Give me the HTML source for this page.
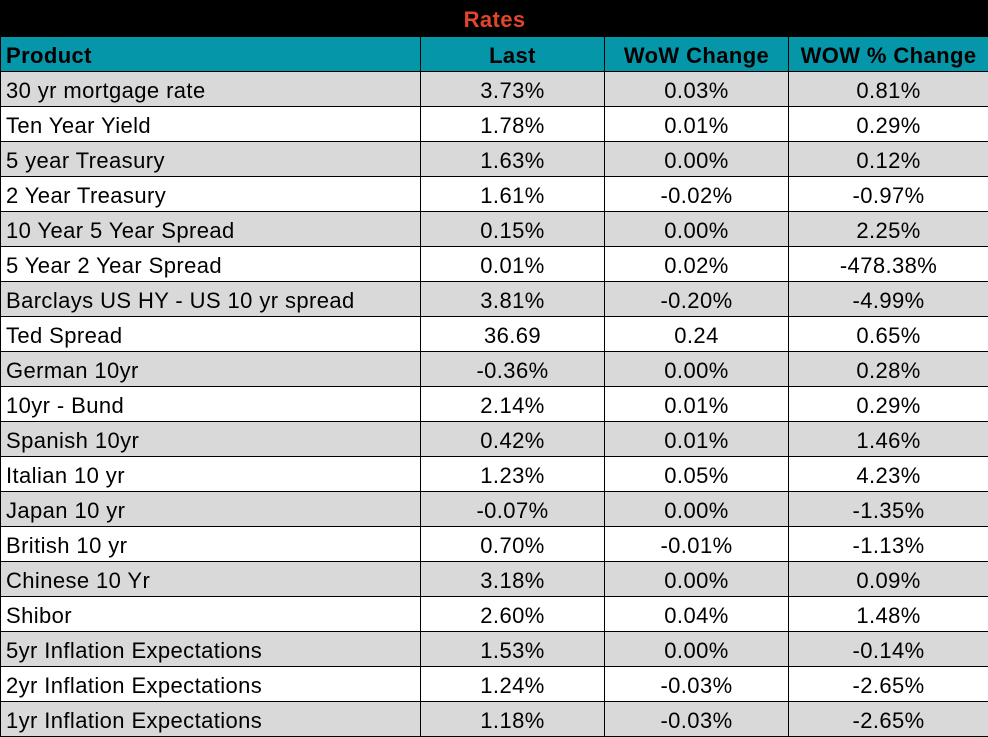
<!DOCTYPE html>
<html><head><style>
body{margin:0;background:#fff;width:988px;height:737px;overflow:hidden;font-family:"Liberation Sans",sans-serif}
table{border-collapse:collapse;table-layout:fixed;width:988px;position:absolute;left:0;top:0}
td{height:35px;border:1px solid #000;padding:3px 0 0 0;box-sizing:border-box;font-size:22px;letter-spacing:0.4px;text-align:center;color:#000;white-space:nowrap;overflow:hidden}
tr{height:35px}
td:first-child{text-align:left;padding-left:5px}
tr.t{height:36px}
tr.t td{height:36px;background:#000;color:#e0472a;font-weight:bold;text-align:center;font-size:22px;padding:2px 0 0 0}
tr.h td{background:#0596a9;font-weight:bold;font-size:22px}
tr.g td{background:#d9d9d9}
</style></head><body>
<table>
<colgroup><col style="width:420px"><col style="width:184px"><col style="width:184px"><col style="width:200px"></colgroup>
<tr class="t"><td colspan="4">Rates</td></tr>
<tr class="h"><td>Product</td><td>Last</td><td>WoW Change</td><td>WOW % Change</td></tr>
<tr class="g"><td>30 yr mortgage rate</td><td>3.73%</td><td>0.03%</td><td>0.81%</td></tr>
<tr><td>Ten Year Yield</td><td>1.78%</td><td>0.01%</td><td>0.29%</td></tr>
<tr class="g"><td>5 year Treasury</td><td>1.63%</td><td>0.00%</td><td>0.12%</td></tr>
<tr><td>2 Year Treasury</td><td>1.61%</td><td>-0.02%</td><td>-0.97%</td></tr>
<tr class="g"><td>10 Year 5 Year Spread</td><td>0.15%</td><td>0.00%</td><td>2.25%</td></tr>
<tr><td>5 Year 2 Year Spread</td><td>0.01%</td><td>0.02%</td><td>-478.38%</td></tr>
<tr class="g"><td>Barclays US HY - US 10 yr spread</td><td>3.81%</td><td>-0.20%</td><td>-4.99%</td></tr>
<tr><td>Ted Spread</td><td>36.69</td><td>0.24</td><td>0.65%</td></tr>
<tr class="g"><td>German 10yr</td><td>-0.36%</td><td>0.00%</td><td>0.28%</td></tr>
<tr><td>10yr - Bund</td><td>2.14%</td><td>0.01%</td><td>0.29%</td></tr>
<tr class="g"><td>Spanish 10yr</td><td>0.42%</td><td>0.01%</td><td>1.46%</td></tr>
<tr><td>Italian 10 yr</td><td>1.23%</td><td>0.05%</td><td>4.23%</td></tr>
<tr class="g"><td>Japan 10 yr</td><td>-0.07%</td><td>0.00%</td><td>-1.35%</td></tr>
<tr><td>British 10 yr</td><td>0.70%</td><td>-0.01%</td><td>-1.13%</td></tr>
<tr class="g"><td>Chinese 10 Yr</td><td>3.18%</td><td>0.00%</td><td>0.09%</td></tr>
<tr><td>Shibor</td><td>2.60%</td><td>0.04%</td><td>1.48%</td></tr>
<tr class="g"><td>5yr Inflation Expectations</td><td>1.53%</td><td>0.00%</td><td>-0.14%</td></tr>
<tr><td>2yr Inflation Expectations</td><td>1.24%</td><td>-0.03%</td><td>-2.65%</td></tr>
<tr class="g"><td>1yr Inflation Expectations</td><td>1.18%</td><td>-0.03%</td><td>-2.65%</td></tr>
</table>
</body></html>
